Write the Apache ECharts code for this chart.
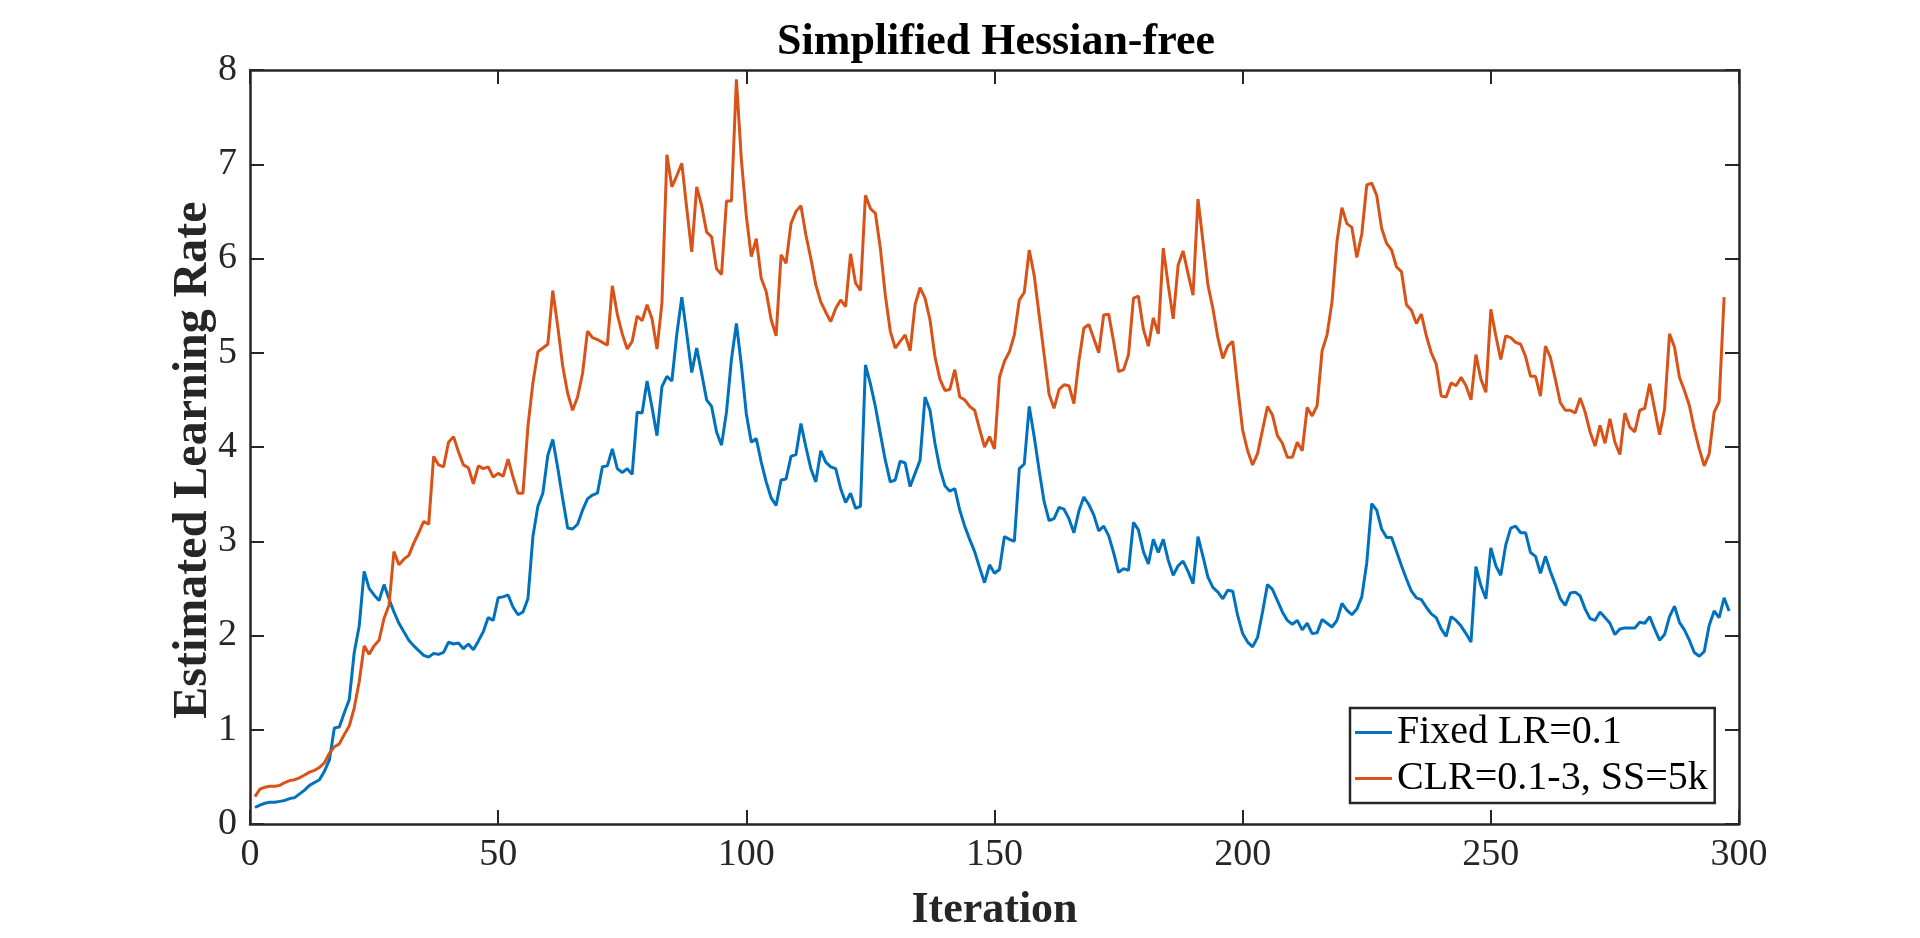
<!DOCTYPE html>
<html>
<head>
<meta charset="utf-8">
<script src="https://cdn.jsdelivr.net/npm/echarts@6/dist/echarts.min.js"></script>
<style>
html,body{margin:0;padding:0;background:#fff;}
#chart{width:1920px;height:938px;}
</style>
</head>
<body>
<div id="chart"></div>
<script>
const chartTitle = 'Simplified Hessian-free';
const xLabel = 'Iteration';
const yLabel = 'Estimated Learning Rate';
const seriesNames = ['Fixed LR=0.1', 'CLR=0.1-3, SS=5k'];
const xTicks = [0, 50, 100, 150, 200, 250, 300];
const yTicks = [0, 1, 2, 3, 4, 5, 6, 7, 8];

// Fixed LR=0.1, iterations 1..298
const fixedLR = [
0.175,0.20,0.22,0.23,0.23,0.24,0.25,0.27,0.28,0.32,
0.36,0.41,0.44,0.47,0.56,0.68,1.02,1.03,1.18,1.32,
1.82,2.10,2.68,2.50,2.43,2.37,2.54,2.39,2.25,2.13,
2.04,1.95,1.89,1.84,1.79,1.77,1.81,1.80,1.82,1.93,
1.91,1.92,1.86,1.91,1.85,1.94,2.04,2.19,2.16,2.40,
2.41,2.43,2.30,2.22,2.25,2.39,3.05,3.37,3.51,3.91,
4.08,3.78,3.45,3.14,3.13,3.18,3.33,3.45,3.49,3.51,
3.79,3.80,3.98,3.77,3.73,3.77,3.71,4.37,4.36,4.70,
4.42,4.12,4.64,4.75,4.70,5.20,5.59,5.20,4.79,5.05,
4.78,4.50,4.43,4.16,4.02,4.37,4.93,5.31,4.87,4.35,
4.05,4.09,3.84,3.63,3.46,3.38,3.65,3.66,3.90,3.92,
4.25,4.00,3.77,3.63,3.96,3.84,3.79,3.77,3.56,3.41,
3.51,3.35,3.37,4.87,4.67,4.43,4.14,3.86,3.63,3.65,
3.85,3.83,3.58,3.72,3.86,4.53,4.39,4.04,3.77,3.59,
3.53,3.56,3.33,3.16,3.02,2.89,2.72,2.56,2.75,2.66,
2.70,3.05,3.02,3.00,3.77,3.82,4.43,4.11,3.75,3.42,
3.22,3.24,3.36,3.34,3.24,3.09,3.32,3.47,3.39,3.28,
3.11,3.16,3.06,2.88,2.67,2.71,2.69,3.20,3.12,2.89,
2.76,3.02,2.88,3.02,2.80,2.64,2.74,2.79,2.68,2.55,
3.05,2.84,2.62,2.51,2.46,2.39,2.48,2.47,2.21,2.02,
1.93,1.88,1.98,2.25,2.54,2.49,2.37,2.25,2.16,2.12,
2.16,2.06,2.13,2.02,2.03,2.17,2.13,2.09,2.16,2.34,
2.27,2.22,2.28,2.41,2.77,3.40,3.33,3.13,3.04,3.04,
2.89,2.74,2.60,2.47,2.40,2.38,2.30,2.23,2.19,2.07,
1.99,2.20,2.16,2.10,2.02,1.93,2.73,2.53,2.39,2.93,
2.74,2.64,2.96,3.14,3.16,3.09,3.09,2.88,2.84,2.66,
2.84,2.68,2.54,2.39,2.32,2.45,2.46,2.42,2.28,2.18,
2.16,2.25,2.19,2.13,2.01,2.07,2.08,2.08,2.08,2.14,
2.13,2.20,2.07,1.95,2.01,2.20,2.31,2.14,2.06,1.95,
1.82,1.78,1.83,2.11,2.26,2.19,2.40,2.26
];

// CLR=0.1-3, SS=5k, iterations 1..297
const cyclicLR = [
0.29,0.37,0.39,0.40,0.40,0.41,0.44,0.46,0.47,0.49,
0.52,0.55,0.57,0.60,0.65,0.75,0.82,0.85,0.95,1.04,
1.23,1.51,1.89,1.80,1.89,1.95,2.18,2.32,2.89,2.75,
2.81,2.85,2.98,3.09,3.21,3.18,3.90,3.81,3.79,4.05,
4.11,3.95,3.81,3.78,3.61,3.80,3.77,3.79,3.68,3.72,
3.69,3.87,3.68,3.51,3.51,4.22,4.68,5.01,5.05,5.09,
5.66,5.28,4.86,4.57,4.39,4.53,4.78,5.23,5.16,5.14,
5.11,5.08,5.71,5.41,5.20,5.04,5.12,5.39,5.34,5.51,
5.36,5.04,5.53,7.10,6.76,6.88,7.01,6.53,6.07,6.76,
6.56,6.28,6.23,5.89,5.83,6.61,6.61,7.90,7.05,6.45,
6.02,6.21,5.79,5.65,5.35,5.18,6.04,5.95,6.37,6.50,
6.56,6.25,6.00,5.72,5.54,5.43,5.33,5.47,5.56,5.49,
6.05,5.74,5.66,6.67,6.53,6.48,6.11,5.61,5.23,5.05,
5.12,5.19,5.02,5.51,5.69,5.58,5.35,4.96,4.72,4.60,
4.61,4.82,4.53,4.50,4.43,4.39,4.19,4.00,4.11,3.98,
4.74,4.91,5.01,5.19,5.56,5.64,6.09,5.82,5.40,4.98,
4.56,4.41,4.61,4.66,4.65,4.46,4.91,5.26,5.30,5.15,
5.00,5.40,5.41,5.12,4.80,4.82,4.98,5.58,5.60,5.25,
5.07,5.37,5.20,6.11,5.72,5.36,5.93,6.08,5.84,5.61,
6.63,6.18,5.72,5.47,5.16,4.94,5.07,5.12,4.63,4.18,
3.96,3.81,3.93,4.18,4.43,4.34,4.12,4.04,3.89,3.89,
4.05,3.96,4.42,4.33,4.44,5.02,5.19,5.54,6.18,6.54,
6.37,6.33,6.01,6.26,6.78,6.80,6.67,6.32,6.16,6.09,
5.91,5.86,5.51,5.45,5.31,5.41,5.18,5.00,4.88,4.54,
4.53,4.68,4.65,4.74,4.65,4.50,4.98,4.72,4.58,5.46,
5.18,4.93,5.18,5.16,5.11,5.09,4.96,4.75,4.75,4.54,
5.07,4.95,4.72,4.47,4.39,4.39,4.36,4.52,4.37,4.16,
4.01,4.23,4.04,4.30,4.05,3.92,4.36,4.21,4.16,4.39,
4.41,4.67,4.40,4.13,4.40,5.20,5.06,4.74,4.60,4.44,
4.19,3.98,3.80,3.93,4.37,4.48,5.59
];

const colors = ['#0072BD', '#D95319'];
const axisColor = '#262626';
const fontFam = '"Liberation Serif", "Times New Roman", serif';

const toPairs = arr => arr.map((v, i) => [i + 1, v]);

const chart = echarts.init(document.getElementById('chart'), null, {renderer: 'canvas'});

const xMin = xTicks[0], xMax = xTicks[xTicks.length - 1];
const yMin = yTicks[0], yMax = yTicks[yTicks.length - 1];
const xInt = xTicks[1] - xTicks[0], yInt = yTicks[1] - yTicks[0];

const tickStyle = {show: true, inside: true, length: 14, lineStyle: {color: axisColor, width: 2}};
const lineStyleAxis = {show: true, onZero: false, lineStyle: {color: axisColor, width: 2.5}};

chart.setOption({
  animation: false,
  backgroundColor: '#ffffff',
  title: {
    text: chartTitle,
    left: 991,
    textAlign: 'center',
    top: 16,
    textStyle: {fontFamily: fontFam, fontSize: 44, fontWeight: 'bold', color: '#000'}
  },
  grid: {left: 250, right: 181, top: 70, bottom: 108, containLabel: false},
  legend: {
    orient: 'vertical',
    left: 1350,
    top: 708,
    backgroundColor: '#ffffff',
    borderColor: axisColor,
    borderWidth: 2.5,
    borderRadius: 0,
    padding: [3, 7, 3, 5],
    itemGap: 3,
    itemWidth: 37,
    itemHeight: 3,
    icon: 'rect',
    textStyle: {fontFamily: fontFam, fontSize: 40, color: '#000', lineHeight: 43},
    data: seriesNames
  },
  xAxis: [
    {
      type: 'value', min: xMin, max: xMax, interval: xInt, position: 'bottom',
      name: xLabel, nameLocation: 'middle', nameGap: 65, nameMoveOverlap: false,
      nameTextStyle: {fontFamily: fontFam, fontSize: 44, fontWeight: 'bold', color: '#262626'},
      axisLine: lineStyleAxis, axisTick: tickStyle,
      axisLabel: {margin: 12, fontFamily: fontFam, fontSize: 38, color: '#262626'},
      splitLine: {show: false}
    },
    {
      type: 'value', min: xMin, max: xMax, interval: xInt, position: 'top',
      axisLine: lineStyleAxis, axisTick: tickStyle,
      axisLabel: {show: false}, splitLine: {show: false}
    }
  ],
  yAxis: [
    {
      type: 'value', min: yMin, max: yMax, interval: yInt, position: 'left',
      name: yLabel, nameLocation: 'middle', nameGap: 32, nameRotate: 90, nameMoveOverlap: false,
      nameTextStyle: {fontFamily: fontFam, fontSize: 48, fontWeight: 'bold', color: '#262626', padding: [0, 26, 0, 0]},
      axisLine: lineStyleAxis, axisTick: tickStyle,
      axisLabel: {margin: 13, fontFamily: fontFam, fontSize: 38, color: '#262626'},
      splitLine: {show: false}
    },
    {
      type: 'value', min: yMin, max: yMax, interval: yInt, position: 'right',
      axisLine: lineStyleAxis, axisTick: tickStyle,
      axisLabel: {show: false}, splitLine: {show: false}
    }
  ],
  series: [
    {
      name: seriesNames[0], type: 'line', xAxisIndex: 0, yAxisIndex: 0,
      data: toPairs(fixedLR), showSymbol: false, symbol: 'none',
      lineStyle: {color: colors[0], width: 3}, itemStyle: {color: colors[0]},
      z: 3
    },
    {
      name: seriesNames[1], type: 'line', xAxisIndex: 0, yAxisIndex: 0,
      data: toPairs(cyclicLR), showSymbol: false, symbol: 'none',
      lineStyle: {color: colors[1], width: 3}, itemStyle: {color: colors[1]},
      z: 4
    }
  ]
});
</script>
</body>
</html>
